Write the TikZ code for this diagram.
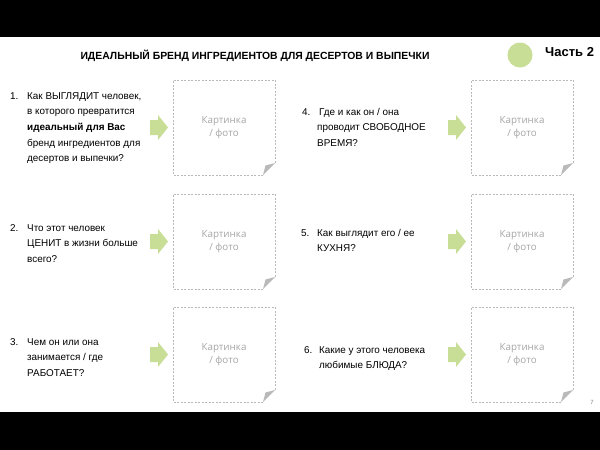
\documentclass[tikz,border=0pt]{standalone}
\usepackage{fontspec}
\setmainfont{Liberation Sans}
\newfontfamily\opensans{Open Sans}
\definecolor{lgreen}{RGB}{200,222,150}
\definecolor{boxgray}{RGB}{185,185,185}
\definecolor{labgray}{RGB}{165,165,165}
\definecolor{foldgray}{RGB}{185,185,185}
\tikzset{
  itemtext/.style={anchor=base west, align=left, inner sep=0pt, font=\fontsize{9.9}{15.7}\selectfont},
  itemnum/.style={anchor=base west, inner sep=0pt, font=\fontsize{9.9}{15.7}\selectfont},
  boxline/.style={draw=boxgray, line width=0.6pt, dash pattern=on 2pt off 1.5pt},
  piclabel/.style={align=center, inner sep=0pt, text=labgray, font=\opensans\fontsize{9.8}{13}\selectfont},
  garrowfill/.style={fill=lgreen, draw=none}
}
\begin{document}
\begin{tikzpicture}[x=1pt,y=-1pt]
\useasboundingbox (0,0) rectangle (600,450);
\fill[black] (0,0) rectangle (600,37);
\fill[black] (0,412) rectangle (600,450);

% title and part marker
\node[inner sep=0pt, font=\bfseries\fontsize{10.4}{12}\selectfont] (title) at (255,56) {ИДЕАЛЬНЫЙ БРЕНД ИНГРЕДИЕНТОВ ДЛЯ ДЕСЕРТОВ И ВЫПЕЧКИ};
\node[circle, fill=lgreen, inner sep=0pt, minimum size=25pt] (dot) at (520,55) {};
\node[anchor=west, inner sep=0pt, font=\bfseries\fontsize{13}{15}\selectfont] (part) at (545,52) {Часть 2};
\node[inner sep=0pt, text=gray, font=\fontsize{6}{7}\selectfont] (pagenum) at (592,402) {7};

% picture boxes
\foreach \bx/\by/\nm in {173/80/pa, 173/194/pb, 173/307/pc, 471/80/pd, 471/194/pe, 471/307/pf}{
  \draw[boxline] ({\bx+90},{\by+95}) -- (\bx,{\by+95}) -- (\bx,\by) -- ({\bx+102},\by) -- ({\bx+102},{\by+83});
  \fill[foldgray] ({\bx+90},{\by+95}) -- ({\bx+102},{\by+83}) -- ({\bx+92.5},{\by+85.5}) -- cycle;
  \node[piclabel] (\nm) at ({\bx+51},{\by+47.5}) {Картинка\\/ фото};
  % green arrow to the left of the box
  \fill[garrowfill] ({\bx-23},{\by+47.5-7.5}) -- ({\bx-15},{\by+47.5-7.5}) -- ({\bx-15},{\by+47.5-12.5})
     -- ({\bx-5},{\by+47.5}) -- ({\bx-15},{\by+47.5+12.5}) -- ({\bx-15},{\by+47.5+7.5})
     -- ({\bx-23},{\by+47.5+7.5}) -- cycle;
}

% left questions (base anchor = baseline of the last line)
\node[itemnum] (n1) at (10,99) {1.};
\node[itemtext] (q1) at (27,161.8) {Как ВЫГЛЯДИТ человек,\\в которого превратится\\\textbf{идеальный для Вас}\\бренд ингредиентов для\\десертов и выпечки?};
\node[itemnum] (n2) at (10,231) {2.};
\node[itemtext] (q2) at (27,262.4) {Что этот человек\\ЦЕНИТ в жизни больше\\всего?};
\node[itemnum] (n3) at (10,345) {3.};
\node[itemtext] (q3) at (27,376.4) {Чем он или она\\занимается / где\\РАБОТАЕТ?};

% right questions
\node[itemnum] (n4) at (302,115) {4.};
\node[itemtext] (q4) at (317,146.4) {\hspace{2pt}Где и как он / она\\проводит СВОБОДНОЕ\\ВРЕМЯ?};
\node[itemnum] (n5) at (301,236) {5.};
\node[itemtext] (q5) at (317,251.7) {Как выглядит его / ее\\КУХНЯ?};
\node[itemnum] (n6) at (304,353) {6.};
\node[itemtext] (q6) at (319,368.7) {Какие у этого человека\\любимые БЛЮДА?};
\end{tikzpicture}
\end{document}
